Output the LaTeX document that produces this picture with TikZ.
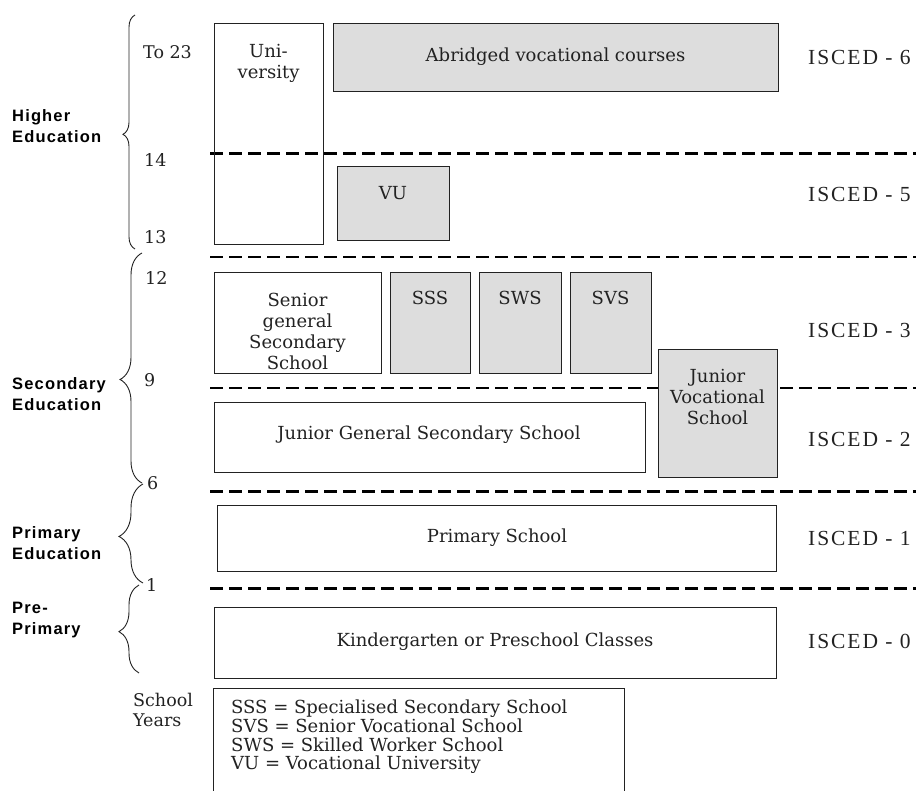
\documentclass[tikz,border=0pt]{standalone}
\usepackage{fontspec}
\setmainfont{DejaVu Serif}
\newfontfamily\iscedfont[LetterSpace=9]{Liberation Serif}
\newfontfamily\labfont[LetterSpace=7]{Liberation Sans}
\usetikzlibrary{decorations.pathreplacing}
\definecolor{boxgray}{HTML}{DDDDDD}
\definecolor{ink}{HTML}{222222}
\begin{document}
\begin{tikzpicture}[x=1pt,y=-1pt,
  box/.style={draw=ink, line width=1.2pt, inner sep=0pt, anchor=north west},
  gbox/.style={box, fill=boxgray},
  txt/.style={font=\fontsize{18}{21}\selectfont, text=ink, align=center, inner sep=0pt},
  legtxt/.style={font=\fontsize{18}{18.7}\selectfont, text=ink, align=left, inner sep=0pt, anchor=west},
  num/.style={font=\fontsize{17.5}{20}\selectfont, text=ink, align=left, inner sep=0pt, anchor=west},
  isced/.style={font=\iscedfont\fontsize{21.5}{22}\selectfont, text=ink, anchor=west, inner sep=0pt},
  lab/.style={font=\labfont\bfseries\fontsize{16.5}{21}\selectfont, text=black, align=left, anchor=west, inner sep=0pt},
  heavydash/.style={draw=black, line width=3pt, dash pattern=on 13pt off 6pt},
  lightdash/.style={draw=black, line width=2pt, dash pattern=on 13pt off 6pt},
  brc/.style={draw=ink, line width=0.9pt, decorate},
]
\useasboundingbox (0,0) rectangle (924,791);
\clip (0,0) rectangle (924,791);

% dashed level separators
\draw[heavydash] (210,154) -- (916,154);
\draw[lightdash] (210,257) -- (916,257);
\draw[lightdash] (210,388) -- (916,388);
\draw[heavydash] (210,491) -- (916,491);
\draw[heavydash] (210,588) -- (916,588);

% higher education
\node[box, minimum width=109pt, minimum height=221pt] (uni) at (214,23) {};
\node[txt] (unit) at (268.5,63) {Uni-\\versity};
\node[gbox, minimum width=445pt, minimum height=68pt] (abr) at (333,23) {};
\node[txt] (abrt) at (555.5,57) {Abridged vocational courses};
\node[gbox, minimum width=112pt, minimum height=74pt] (vu) at (337,166) {};
\node[txt] (vut) at (393,193) {VU};

% secondary
\node[box, minimum width=167pt, minimum height=101pt] (sgss) at (214,272) {};
\node[txt] (sgsst) at (297.5,331) {Senior\\general\\Secondary\\School};
\node[gbox, minimum width=80pt, minimum height=101pt] (sss) at (390,272) {};
\node[txt] (ssst) at (430,298) {SSS};
\node[gbox, minimum width=82pt, minimum height=101pt] (sws) at (479,272) {};
\node[txt] (swst) at (520,298) {SWS};
\node[gbox, minimum width=81pt, minimum height=101pt] (svs) at (570,272) {};
\node[txt] (svst) at (610.5,298) {SVS};
\node[box, minimum width=431pt, minimum height=70pt] (jgss) at (214,402) {};
\node[txt] (jgsst) at (429,435) {Junior General Secondary School};
\node[gbox, minimum width=119pt, minimum height=128pt] (jvs) at (658,349) {};
\node[txt] (jvst) at (717.5,397) {Junior\\Vocational\\School};

% primary and pre-primary
\node[box, minimum width=559pt, minimum height=66pt] (prim) at (217,505) {};
\node[txt] (primt) at (497,538) {Primary School};
\node[box, minimum width=562pt, minimum height=71pt] (kind) at (214,607) {};
\node[txt] (kindt) at (495,642) {Kindergarten or Preschool Classes};

% legend
\node[box, minimum width=411pt, minimum height=130pt] (leg) at (213,688) {};
\node[legtxt] (legt) at (231,737) {SSS = Specialised Secondary School\\SVS = Senior Vocational School\\SWS = Skilled Worker School\\VU = Vocational University};

% ISCED labels
\node[isced] (i6) at (808,57) {ISCED - 6};
\node[isced] (i5) at (808,194) {ISCED - 5};
\node[isced] (i3) at (808,330) {ISCED - 3};
\node[isced] (i2) at (808,439) {ISCED - 2};
\node[isced] (i1) at (808,538) {ISCED - 1};
\node[isced] (i0) at (808,641) {ISCED - 0};

% braces
\draw[brc, decoration={brace, amplitude=12pt, aspect=0.49}] (135,249) -- (135,15);
\draw[brc, decoration={brace, amplitude=22pt, aspect=0.45}] (142,483) -- (142,253);
\draw[brc, decoration={brace, amplitude=24pt, aspect=0.47}] (143,583) -- (143,484);
\draw[brc, decoration={brace, amplitude=20pt, aspect=0.47}] (139,673) -- (139,585);

% year numbers
\node[num] (y23) at (143,52) {To 23};
\node[num] (y14) at (144,160) {14};
\node[num] (y13) at (144,237) {13};
\node[num] (y12) at (145,278) {12};
\node[num] (y9) at (144,380) {9};
\node[num] (y6) at (147,483) {6};
\node[num] (y1) at (146,585) {1};
\node[num] (sy) at (133,710) {School\\Years};

% level labels
\node[lab] (he) at (12,126) {Higher\\Education};
\node[lab] (se) at (12,394) {Secondary\\Education};
\node[lab] (pe) at (12,543) {Primary\\Education};
\node[lab] (pp) at (12,620) {Pre-\\Primary};
\end{tikzpicture}
\end{document}
